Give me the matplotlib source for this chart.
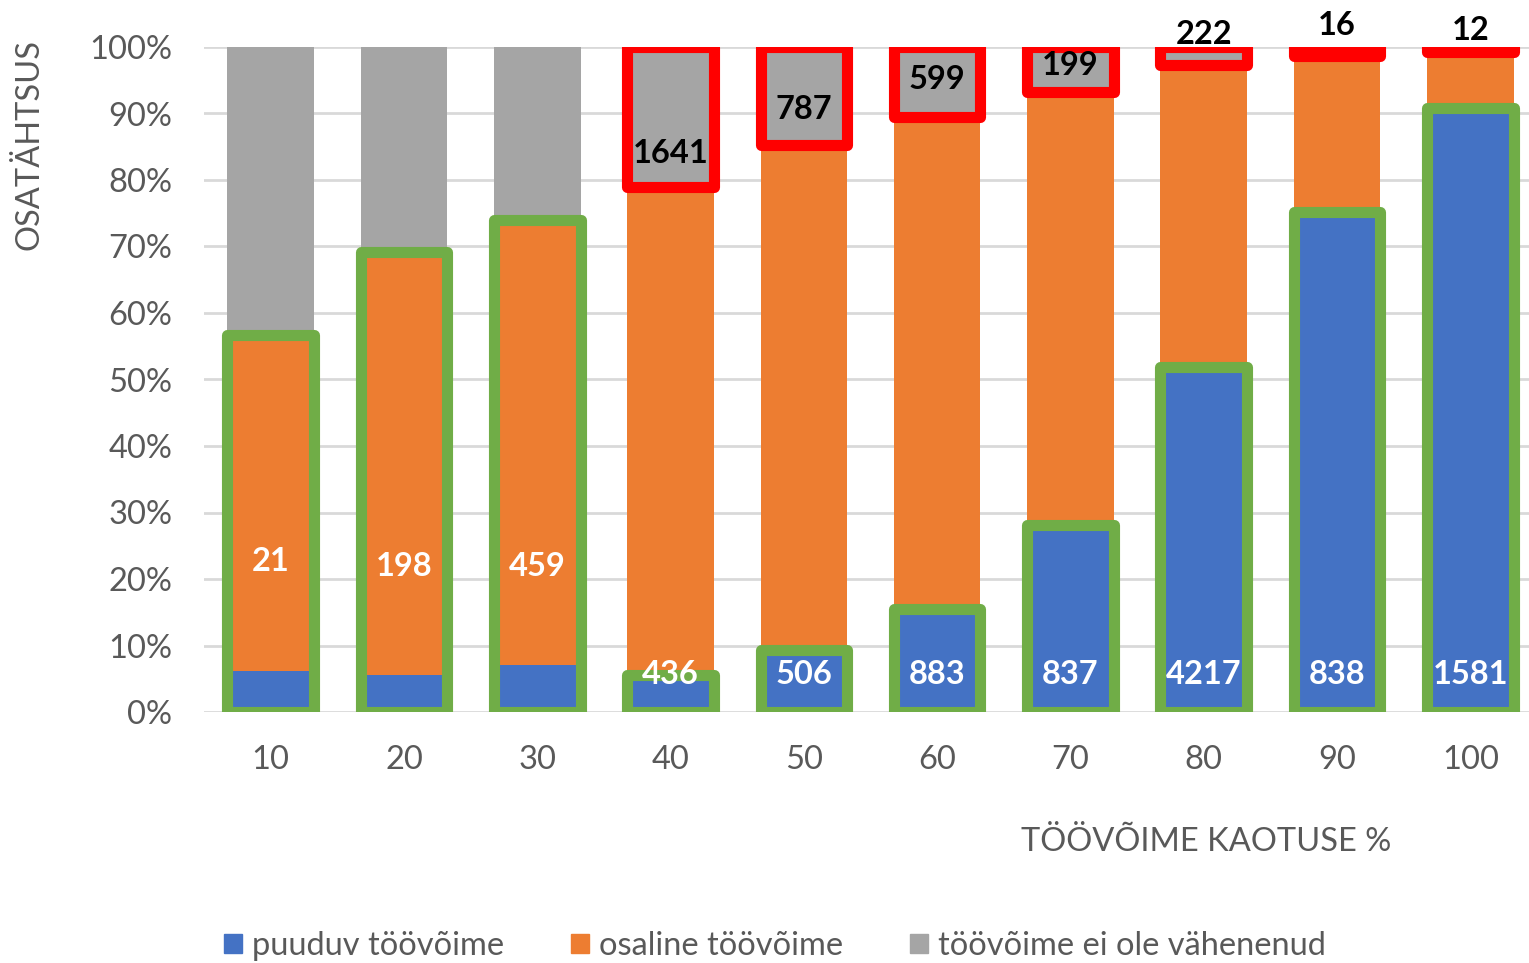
import numpy as np
import matplotlib
matplotlib.use("Agg")
import matplotlib.pyplot as plt
from matplotlib.patches import Patch

plt.rcParams['font.family'] = ['Lato', 'DejaVu Sans']

# --- data (shares in %) ---
categories = ['10', '20', '30', '40', '50', '60', '70', '80', '90', '100']
puuduv = [6.2, 5.5, 7.1, 5.6, 9.3, 15.5, 28.1, 51.9, 75.2, 90.8]
osaline = [50.5, 63.7, 66.9, 73.3, 76.0, 73.9, 65.2, 45.4, 23.4, 8.5]
ei_ole = [43.3, 30.8, 26.0, 21.1, 14.7, 10.6, 6.7, 2.7, 1.4, 0.7]

# counts shown as labels
green_labels = ['21', '198', '459', '436', '506', '883', '837', '4217', '838', '1581']
red_labels = ['', '', '', '1641', '787', '599', '199', '222', '16', '12']
green_label_y = [22.6, 21.9, 21.9, 5.6, 5.6, 5.6, 5.6, 5.6, 5.6, 5.6]
red_label_y = [0, 0, 0, 84.0, 90.6, 95.1, 97.2, 101.9, 103.2, 102.5]

# first three bars: green box around blue+orange, rest: green around blue, red around grey
green_covers_orange = [True, True, True, False, False, False, False, False, False, False]

C_BLUE = '#4472C4'
C_ORANGE = '#ED7D31'
C_GREY = '#A5A5A5'
C_GREEN = '#70AD47'
C_RED = '#FF0000'
C_TEXT = '#595959'
FS = 23.5

blue = np.array(puuduv) / 100
orange = np.array(osaline) / 100
grey = np.array(ei_ole) / 100
x = np.arange(len(categories))
w = 0.65

fig = plt.figure(figsize=(15.29, 9.63), dpi=100)
ax = fig.add_axes([204 / 1529, 1 - 712 / 963, 1333 / 1529, 665 / 963])

ax.bar(x, blue, w, color=C_BLUE, zorder=2)
ax.bar(x, orange, w, bottom=blue, color=C_ORANGE, zorder=2)
ax.bar(x, grey, w, bottom=blue + orange, color=C_GREY, zorder=2)

# outlines
lw = 8
for i in range(len(x)):
    if green_covers_orange[i]:
        h = blue[i] + orange[i]
    else:
        h = blue[i]
        r = ax.bar(x[i], grey[i], w, bottom=blue[i] + orange[i], facecolor='none',
                   edgecolor=C_RED, linewidth=lw, zorder=4)
        r[0].set_joinstyle('round')
    g = ax.bar(x[i], h, w, facecolor='none', edgecolor=C_GREEN, linewidth=lw, zorder=3)
    g[0].set_joinstyle('round')

# labels
for i in range(len(x)):
    ax.text(x[i], green_label_y[i] / 100, green_labels[i], ha='center', va='center',
            color='white', fontsize=FS, fontweight='bold', zorder=5)
    if red_labels[i]:
        ax.text(x[i], red_label_y[i] / 100, red_labels[i], ha='center', va='center',
                color='black', fontsize=FS, fontweight='bold', zorder=5, clip_on=False)

ax.set_xlim(-0.5, len(x) - 0.5)
ax.set_ylim(0, 1)
ax.set_yticks(np.arange(0, 1.01, 0.1))
ax.set_yticklabels([f'{v}%' for v in range(0, 101, 10)])
ax.set_xticks(x)
ax.set_xticklabels(categories)
ax.tick_params(axis='both', length=0, labelsize=FS, labelcolor=C_TEXT)
ax.tick_params(axis='y', pad=23)
ax.tick_params(axis='x', pad=24)
ax.grid(axis='y', color='#D9D9D9', linewidth=2, zorder=0)
ax.set_axisbelow(True)
for s in ax.spines.values():
    s.set_visible(False)

fig.text(30 / 1529, 1 - 145 / 963, 'OSATÄHTSUS', rotation=90, ha='center', va='center',
         fontsize=FS, color=C_TEXT)
fig.text(1206 / 1529, 1 - 842 / 963, 'TÖÖVÕIME KAOTUSE %', ha='center', va='center',
         fontsize=FS, color=C_TEXT)

handles = [Patch(color=C_BLUE), Patch(color=C_ORANGE), Patch(color=C_GREY)]
fig.legend(handles, ['puuduv töövõime', 'osaline töövõime', 'töövõime ei ole vähenenud'],
           loc='center', bbox_to_anchor=(775 / 1529, 1 - 946 / 963), ncol=3, frameon=False,
           fontsize=FS, labelcolor=C_TEXT, handlelength=0.55, handleheight=0.55,
           handletextpad=0.3, columnspacing=2.05)

fig.savefig('out.png', dpi=100)
